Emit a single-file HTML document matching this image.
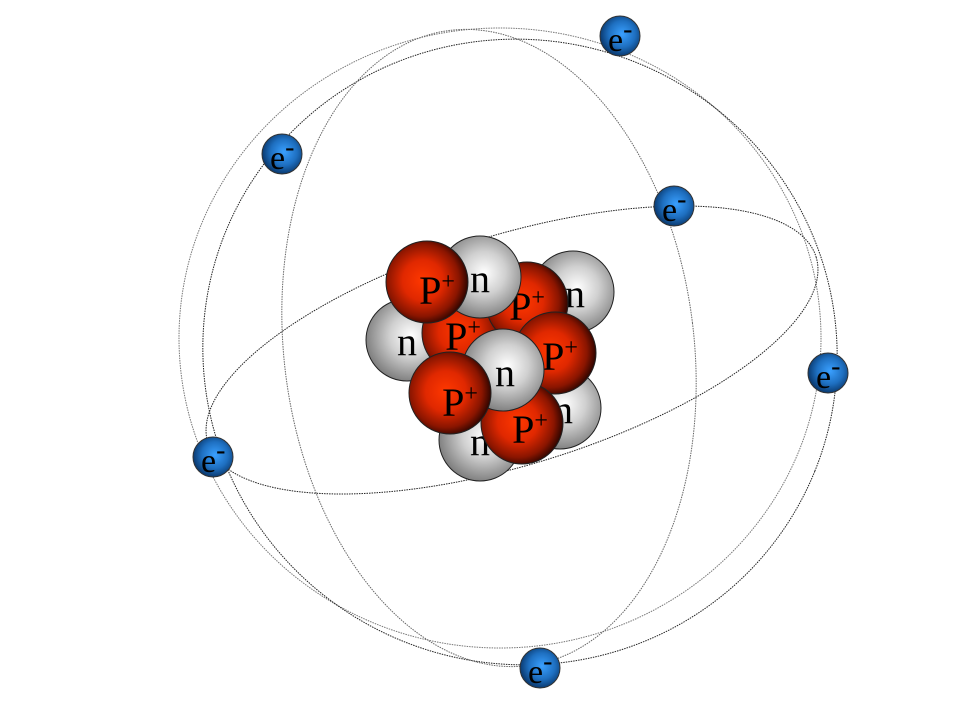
<!DOCTYPE html>
<html><head><meta charset="utf-8"><style>
html,body{margin:0;padding:0;background:#fff;width:960px;height:720px;overflow:hidden}
svg{display:block;overflow:hidden;position:absolute;left:0;top:0}
</style></head><body>
<svg width="960" height="720" viewBox="0 0 960 720" xmlns="http://www.w3.org/2000/svg" font-family="Liberation Serif, Times New Roman, serif">
<defs>
<radialGradient id="gp" cx="45%" cy="48%" r="55%">
<stop offset="0" stop-color="#ff3800"/><stop offset="0.45" stop-color="#e02800"/><stop offset="0.8" stop-color="#8a1500"/><stop offset="1" stop-color="#300500"/>
</radialGradient>
<radialGradient id="gn" cx="55%" cy="45%" r="58%">
<stop offset="0" stop-color="#ffffff"/><stop offset="0.45" stop-color="#d0d0d0"/><stop offset="1" stop-color="#7a7a7a"/>
</radialGradient>
<radialGradient id="ge" cx="55%" cy="45%" r="55%">
<stop offset="0" stop-color="#3aa0ff"/><stop offset="0.6" stop-color="#1e6fc0"/><stop offset="1" stop-color="#0a3a70"/>
</radialGradient>
</defs>
<g fill="none" stroke-width="1">
<ellipse cx="500" cy="338" rx="321" ry="310" stroke="#777" stroke-dasharray="1.5 1"/>
<ellipse cx="520" cy="352" rx="318" ry="312" transform="rotate(22 520 352)" stroke="#222" stroke-dasharray="1.5 1"/>
<ellipse cx="489" cy="348" rx="205" ry="320" transform="rotate(-7 489 348)" stroke="#666" stroke-dasharray="1.5 1"/>
<ellipse cx="512" cy="350" rx="318" ry="115" transform="rotate(-17 512 350)" stroke="#222" stroke-dasharray="1.5 1"/>
</g>
<g stroke="#222" stroke-width="1" font-size="40">
<circle cx="407" cy="340" r="41" fill="url(#gn)"/><text x="407" y="355" text-anchor="middle" stroke="none">n</text>
<circle cx="480" cy="440" r="41" fill="url(#gn)" /><text x="480" y="455" text-anchor="middle" stroke="none">n</text>
<circle cx="560" cy="408" r="41" fill="url(#gn)"/><text x="563" y="423" text-anchor="middle" stroke="none">n</text>
<circle cx="573" cy="292" r="41" fill="url(#gn)"/><text x="575" y="307" text-anchor="middle" stroke="none">n</text>
<circle cx="463" cy="333" r="41" fill="url(#gp)"/><text x="463" y="350" text-anchor="middle" stroke="none">P<tspan font-size="24" dy="-15">+</tspan></text>
<circle cx="527" cy="303" r="41" fill="url(#gp)"/><text x="527" y="320" text-anchor="middle" stroke="none">P<tspan font-size="24" dy="-15">+</tspan></text>
<circle cx="555" cy="353" r="41" fill="url(#gp)"/><text x="560" y="370" text-anchor="middle" stroke="none">P<tspan font-size="24" dy="-15">+</tspan></text>
<circle cx="480" cy="277" r="41" fill="url(#gn)"/><text x="480" y="292" text-anchor="middle" stroke="none">n</text>
<circle cx="427" cy="282" r="41" fill="url(#gp)"/><text x="437" y="304" text-anchor="middle" stroke="none">P<tspan font-size="24" dy="-15">+</tspan></text>
<circle cx="522" cy="423" r="41" fill="url(#gp)"/><text x="530" y="443" text-anchor="middle" stroke="none">P<tspan font-size="24" dy="-15">+</tspan></text>
<circle cx="503" cy="370" r="41" fill="url(#gn)"/><text x="505" y="386" text-anchor="middle" stroke="none">n</text>
<circle cx="450" cy="393" r="41" fill="url(#gp)"/><text x="460" y="416" text-anchor="middle" stroke="none">P<tspan font-size="24" dy="-15">+</tspan></text>
</g>
<g stroke="#333" stroke-width="1" fill="url(#ge)">
<circle cx="620" cy="36" r="20"/><circle cx="282" cy="154" r="20"/><circle cx="674" cy="206" r="20"/>
<circle cx="828" cy="373" r="20"/><circle cx="213" cy="457" r="20"/><circle cx="540" cy="668" r="20"/>
</g>
<g font-size="34">
<text x="608" y="51">e<tspan font-size="28" dy="-13">-</tspan></text>
<text x="270" y="169">e<tspan font-size="28" dy="-13">-</tspan></text>
<text x="662" y="221">e<tspan font-size="28" dy="-13">-</tspan></text>
<text x="816" y="388">e<tspan font-size="28" dy="-13">-</tspan></text>
<text x="201" y="472">e<tspan font-size="28" dy="-13">-</tspan></text>
<text x="528" y="683">e<tspan font-size="28" dy="-13">-</tspan></text>
</g>
</svg>
</body></html>
